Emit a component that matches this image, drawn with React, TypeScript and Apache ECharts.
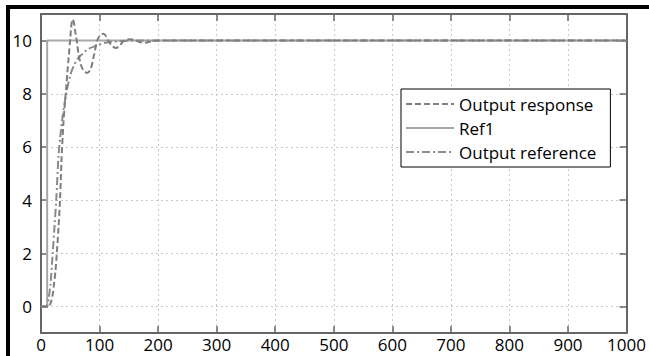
import React, { useEffect, useRef } from "react";
import * as echarts from "echarts";

const xTicks = [0, 100, 200, 300, 400, 500, 600, 700, 800, 900, 1000];
const yTicks = [0, 2, 4, 6, 8, 10];

const outputResponse: [number, number][] = [
  [0, 0], [12, 0], [16, 0.1], [20, 0.45], [22, 0.8], [25, 1.4], [27, 2], [30, 3],
  [32.5, 4], [35, 5.5], [38, 6.8], [41, 7.7], [43, 8.2], [45, 8.8], [47, 9.3],
  [50, 10.1], [52, 10.6], [54, 10.8], [56, 10.7], [58, 10.4], [61, 10], [64, 9.5],
  [68, 9.1], [72, 8.9], [79, 8.78], [85, 8.95], [90, 9.4], [96, 10], [101, 10.2],
  [106, 10.26], [110, 10.2], [115, 10], [121, 9.8], [128, 9.72], [134, 9.8],
  [141, 9.98], [147, 10.04], [153, 10.05], [160, 10.02], [168, 9.95], [178, 9.92],
  [188, 9.97], [200, 10], [1000, 10],
];

const ref1: [number, number][] = [[0, 0], [10.5, 0], [10.5, 10], [1000, 10]];

const outputReference: [number, number][] = [
  [0, 0], [10, 0], [13, 0.3], [16, 0.8], [20, 2], [23, 3], [26, 4], [30, 5.7],
  [33, 6.4], [36, 7], [40, 7.6], [43, 8], [50, 8.7], [57, 9.1], [64, 9.35],
  [71, 9.5], [80, 9.68], [94, 9.8], [110, 9.92], [130, 9.97], [160, 10], [1000, 10],
];

const seriesNames = ["Output response", "Ref1", "Output reference"];

export default function App() {
  const ref = useRef<HTMLDivElement>(null);
  useEffect(() => {
    document.body.style.margin = "0";
    if (!ref.current) return;
    const chart = echarts.init(ref.current, null, { renderer: "svg" });
    const axisColor = "#666";
    const font = "Open Sans";
    const commonX = {
      type: "value" as const,
      min: 0,
      max: 1000,
      interval: 100,
    };
    const commonY = {
      type: "value" as const,
      min: -1,
      max: 11,
    };
    chart.setOption({
      animation: false,
      backgroundColor: "#fff",
      grid: { left: 41, right: 15, top: 14, bottom: 23, containLabel: false },
      xAxis: [
        {
          ...commonX,
          position: "bottom",
          axisLine: { onZero: false, lineStyle: { color: axisColor, width: 2 } },
          axisTick: { inside: true, length: 7, lineStyle: { color: axisColor, width: 1.5 } },
          axisLabel: {
            color: "#000",
            fontFamily: font,
            fontSize: 17,
            margin: 3,
            showMaxLabel: true,
            customValues: xTicks,
            formatter: (v: number) => String(v),
          },
          splitLine: { show: true, lineStyle: { color: "#c8c8c8", type: [2, 3], width: 1 } },
        },
        {
          ...commonX,
          position: "top",
          axisLine: { onZero: false, lineStyle: { color: axisColor, width: 2 } },
          axisTick: { inside: true, length: 7, lineStyle: { color: axisColor, width: 1.5 } },
          axisLabel: { show: false },
          splitLine: { show: false },
        },
      ],
      yAxis: [
        {
          ...commonY,
          position: "left",
          axisLine: { onZero: false, lineStyle: { color: axisColor, width: 2 } },
          axisTick: {
            inside: true,
            length: 7,
            customValues: yTicks,
            lineStyle: { color: axisColor, width: 1.5 },
          },
          axisLabel: {
            color: "#000",
            fontFamily: font,
            fontSize: 17,
            margin: 9,
            customValues: yTicks,
            formatter: (v: number) => String(v),
          },
          splitLine: { show: true, lineStyle: { color: "#c8c8c8", type: [2, 3], width: 1 } },
        },
        {
          ...commonY,
          position: "right",
          axisLine: { onZero: false, lineStyle: { color: axisColor, width: 2 } },
          axisTick: {
            inside: true,
            length: 7,
            customValues: yTicks,
            lineStyle: { color: axisColor, width: 1.5 },
          },
          axisLabel: { show: false },
          splitLine: { show: false },
        },
      ],
      legend: {
        orient: "vertical",
        left: 401,
        top: 89,
        data: seriesNames,
        backgroundColor: "#fff",
        borderColor: "#000",
        borderWidth: 1,
        borderRadius: 0,
        padding: [5, 14, 5, 4],
        itemWidth: 48,
        itemHeight: 14,
        itemGap: 4,
        itemStyle: { opacity: 0 },
        textStyle: { color: "#000", fontFamily: font, fontSize: 17, lineHeight: 20 },
      },
      graphic: [
        { type: "rect", shape: { x: 6, y: 5, width: 643, height: 4 }, style: { fill: "#000" }, z: 100 },
        { type: "rect", shape: { x: 6, y: 5, width: 4, height: 351 }, style: { fill: "#000" }, z: 100 },
      ],
      series: [
        {
          name: seriesNames[1],
          type: "line",
          data: ref1,
          symbol: "none",
          lineStyle: { color: "#a8a8a8", width: 2, type: "solid" },
          itemStyle: { color: "#a8a8a8" },
          z: 2,
        },
        {
          name: seriesNames[2],
          type: "line",
          data: outputReference,
          symbol: "none",
          smooth: 0.3,
          lineStyle: { color: "#8a8a8a", width: 2, type: [8, 3, 2, 3] },
          itemStyle: { color: "#8a8a8a" },
          z: 3,
        },
        {
          name: seriesNames[0],
          type: "line",
          data: outputResponse,
          symbol: "none",
          smooth: 0.3,
          lineStyle: { color: "#7e7e7e", width: 2, type: [6, 3] },
          itemStyle: { color: "#7e7e7e" },
          z: 4,
        },
      ],
    });
    return () => chart.dispose();
  }, []);
  return <div ref={ref} style={{ width: 649, height: 356 }} />;
}
